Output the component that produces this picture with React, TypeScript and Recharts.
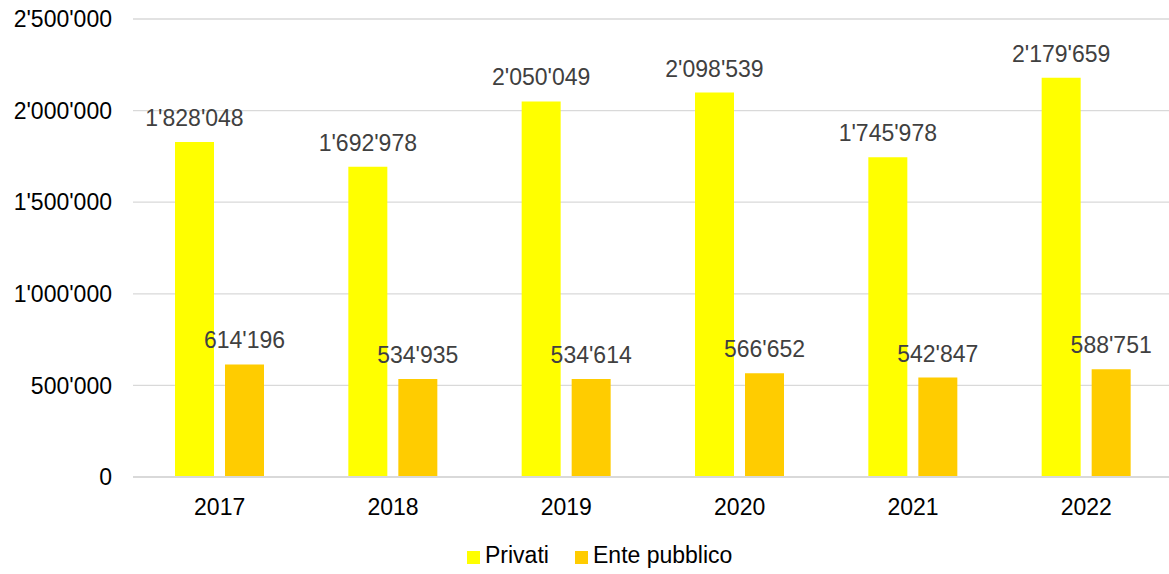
import React from 'react';
import { BarChart, Bar, XAxis, YAxis, CartesianGrid, Legend, LabelList } from 'recharts';

const years = ['2017', '2018', '2019', '2020', '2021', '2022'];
const privati = [1828048, 1692978, 2050049, 2098539, 1745978, 2179659];
const entePubblico = [614196, 534935, 534614, 566652, 542847, 588751];
const yTicks = [0, 500000, 1000000, 1500000, 2000000, 2500000];

const data = years.map((y, i) => ({ year: y, privati: privati[i], ente: entePubblico[i] }));

const fmt = (v: number) => String(v).replace(/\B(?=(\d{3})+(?!\d))/g, "'");

const FONT = 'Arial, "Liberation Sans", sans-serif';

const LegendContent = () => (
  <div style={{ position: 'relative', height: 40, width: 1169, fontFamily: FONT, fontSize: 23, color: '#000' }}>
    <div style={{ position: 'absolute', left: 467, top: 17, width: 13, height: 13, background: '#FFFF00' }} />
    <span style={{ position: 'absolute', left: 485, top: 10, lineHeight: '23px', whiteSpace: 'nowrap' }}>Privati</span>
    <div style={{ position: 'absolute', left: 575, top: 17, width: 13, height: 13, background: '#FFCC00' }} />
    <span style={{ position: 'absolute', left: 593, top: 10, lineHeight: '23px', whiteSpace: 'nowrap' }}>Ente pubblico</span>
  </div>
);

export default function App() {
  return (
    <div style={{ position: 'absolute', left: 0, top: 0, width: 1169, height: 574, overflow: 'hidden', background: '#fff' }}>
      <BarChart
        width={1173}
        height={574}
        data={data}
        margin={{ top: 19, right: 0, bottom: 0, left: 0 }}
        barSize={39}
        barGap={11}
        style={{ fontFamily: FONT }}
      >
        <CartesianGrid vertical={false} stroke="#d9d9d9" strokeWidth={1.3} />
        <XAxis
          dataKey="year"
          height={57}
          tickLine={false}
          tickSize={0}
          tickMargin={22}
          axisLine={{ stroke: '#d9d9d9', strokeWidth: 2 }}
          tick={{ fill: '#000', fontSize: 23, fontFamily: FONT }}
        />
        <YAxis
          width={133}
          domain={[0, 2500000]}
          ticks={yTicks}
          interval={0}
          tickFormatter={fmt}
          axisLine={false}
          tickLine={false}
          tickSize={0}
          tickMargin={21}
          tick={{ fill: '#000', fontSize: 23, fontFamily: FONT }}
        />
        <Legend verticalAlign="bottom" height={40} wrapperStyle={{ left: 0, width: 1169 }} content={<LegendContent />} />
        <Bar dataKey="privati" name="Privati" fill="#FFFF00" isAnimationActive={false}>
          <LabelList dataKey="privati" position="top" offset={16} formatter={(v: any) => fmt(Number(v))} fill="#404040" fontSize={23} fontFamily={FONT} />
        </Bar>
        <Bar dataKey="ente" name="Ente pubblico" fill="#FFCC00" isAnimationActive={false}>
          <LabelList dataKey="ente" position="top" offset={16} formatter={(v: any) => fmt(Number(v))} fill="#404040" fontSize={23} fontFamily={FONT} />
        </Bar>
      </BarChart>
    </div>
  );
}
